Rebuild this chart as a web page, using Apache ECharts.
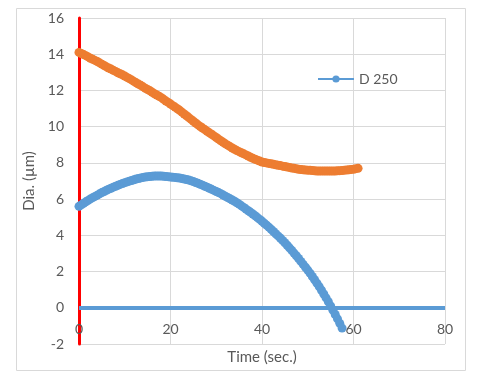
<!DOCTYPE html>
<html>
<head>
<meta charset="utf-8">
<script src="https://cdn.jsdelivr.net/npm/echarts@6/dist/echarts.min.js"></script>
<style>
  html, body { margin: 0; padding: 0; background: #fff; }
  #chart { width: 480px; height: 385px; }
</style>
</head>
<body>
<div id="chart"></div>
<script>
// sampling step of the recording, seconds
var step = 0.5;

// D 250 (blue), t = 0 .. 57.5 s
var diaBlue = [
  5.60, 5.68, 5.77, 5.85, 5.93, 6.01, 6.08, 6.15, 6.22, 6.29,
  6.36, 6.42, 6.49, 6.55, 6.60, 6.66, 6.71, 6.76, 6.81, 6.86,
  6.91, 6.95, 6.99, 7.03, 7.07, 7.11, 7.14, 7.17, 7.20, 7.22,
  7.24, 7.25, 7.26, 7.27, 7.27, 7.27, 7.27, 7.26, 7.25, 7.24,
  7.22, 7.21, 7.20, 7.18, 7.16, 7.14, 7.11, 7.08, 7.05, 7.01,
  6.97, 6.92, 6.87, 6.82, 6.77, 6.71, 6.66, 6.60, 6.54, 6.48,
  6.42, 6.36, 6.30, 6.23, 6.16, 6.09, 6.02, 5.95, 5.88, 5.80,
  5.72, 5.63, 5.54, 5.45, 5.36, 5.27, 5.18, 5.08, 4.98, 4.88,
  4.78, 4.67, 4.56, 4.45, 4.33, 4.21, 4.09, 3.97, 3.85, 3.72,
  3.59, 3.45, 3.31, 3.17, 3.02, 2.87, 2.72, 2.56, 2.40, 2.24,
  2.08, 1.91, 1.73, 1.55, 1.36, 1.17, 0.97, 0.76, 0.55, 0.33,
  0.10, -0.13, -0.37, -0.61, -0.86, -1.12
];

// second series (orange, not in legend), t = 0 .. 61 s
var diaOrange = [
  14.1, 14.04, 13.98, 13.92, 13.85, 13.78, 13.72, 13.66, 13.6, 13.52,
  13.45, 13.38, 13.3, 13.24, 13.18, 13.11, 13.05, 12.98, 12.92, 12.86,
  12.8, 12.72, 12.65, 12.58, 12.5, 12.42, 12.35, 12.28, 12.2, 12.12,
  12.05, 11.98, 11.9, 11.82, 11.75, 11.68, 11.6, 11.51, 11.42, 11.34,
  11.25, 11.16, 11.08, 10.99, 10.9, 10.8, 10.7, 10.6, 10.5, 10.4,
  10.3, 10.2, 10.1, 10.01, 9.92, 9.84, 9.75, 9.66, 9.58, 9.49,
  9.4, 9.31, 9.22, 9.14, 9.05, 8.98, 8.9, 8.82, 8.75, 8.68,
  8.62, 8.56, 8.5, 8.44, 8.38, 8.31, 8.25, 8.2, 8.15, 8.1,
  8.05, 8.02, 8.0, 7.97, 7.95, 7.92, 7.9, 7.87, 7.85, 7.82,
  7.8, 7.77, 7.75, 7.72, 7.7, 7.67, 7.65, 7.63, 7.62, 7.61,
  7.6, 7.59, 7.58, 7.56, 7.55, 7.55, 7.55, 7.55, 7.55, 7.55,
  7.55, 7.55, 7.55, 7.56, 7.57, 7.58, 7.6, 7.61, 7.62, 7.64,
  7.65, 7.68, 7.7
];

var yTicks = [-2, 0, 2, 4, 6, 8, 10, 12, 14, 16];
var xTicks = [0, 20, 40, 60, 80];
var axisCrossY = 0; // horizontal axis crosses at Dia. = 0

function series(values) {
  return values.map(function (v, k) { return [k * step, v]; });
}

var chart = echarts.init(document.getElementById("chart"), null, { renderer: "canvas" });

var labelColor = "#595959";
var font = "Lato";

var option = {
  animation: false,
  textStyle: { fontFamily: font },
  graphic: [
    {
      type: "rect",
      shape: { x: 16.5, y: 8.5, width: 449, height: 362 },
      style: { fill: null, stroke: "#d9d9d9", lineWidth: 1 },
      silent: true,
    },
  ],
  grid: { left: 79, right: 35, top: 18, bottom: 41, outerBoundsMode: "none", containLabel: false },
  legend: {
    left: 312,
    top: 67,
    itemWidth: 36,
    itemHeight: 9,
    data: ["D 250"],
    textStyle: { fontFamily: font, fontSize: 14, color: labelColor },
  },
  xAxis: {
    type: "value",
    min: xTicks[0],
    max: xTicks[xTicks.length - 1],
    interval: 20,
    name: "Time (sec.)",
    nameLocation: "middle",
    nameGap: 5,
    nameTextStyle: { fontFamily: font, fontSize: 15, color: labelColor },
    axisLine: { show: false, onZero: false },
    axisTick: { show: false },
    axisLabel: { margin: -22, fontSize: 14, color: labelColor, fontFamily: font },
    splitLine: { show: true, lineStyle: { color: "#d9d9d9", width: 1 } },
  },
  yAxis: {
    type: "value",
    min: yTicks[0],
    max: yTicks[yTicks.length - 1],
    interval: 2,
    name: "Dia. (µm)",
    nameLocation: "middle",
    nameGap: 37,
    nameTextStyle: { fontFamily: font, fontSize: 15, color: labelColor },
    axisLine: { show: true, onZero: false, lineStyle: { color: "#ff0000", width: 3 } },
    axisTick: { show: false },
    axisLabel: { margin: 15, fontSize: 14, color: labelColor, fontFamily: font },
    splitLine: { show: true, lineStyle: { color: "#d9d9d9", width: 1 } },
  },
  series: [
    {
      name: "Orange",
      type: "line",
      data: series(diaOrange),
      symbol: "circle",
      symbolSize: 9,
      color: "#ed7d31",
      lineStyle: { width: 2, color: "#ed7d31" },
      itemStyle: { color: "#ed7d31" },
      z: 3,
    },
    {
      name: "D 250",
      type: "line",
      data: series(diaBlue),
      symbol: "circle",
      symbolSize: 9,
      color: "#5b9bd5",
      lineStyle: { width: 2, color: "#5b9bd5" },
      itemStyle: { color: "#5b9bd5" },
      z: 4,
      markLine: {
        silent: true,
        symbol: "none",
        label: { show: false },
        lineStyle: { color: "#5b9bd5", width: 4, type: "solid" },
        data: [{ yAxis: axisCrossY }],
      },
    },
  ],
};

chart.setOption(option);
window.addEventListener("resize", chart.resize);
</script>
</body>
</html>
